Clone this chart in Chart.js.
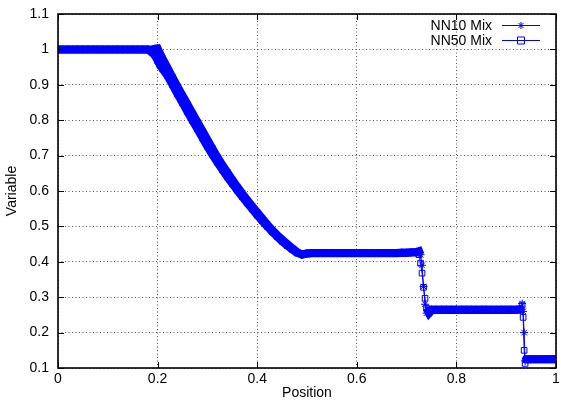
<!DOCTYPE html>
<html>
<head>
<meta charset="utf-8">
<script src="https://cdn.jsdelivr.net/npm/chart.js@4.4.1/dist/chart.umd.min.js"></script>
<style>
  html, body { margin: 0; padding: 0; background: #fff; }
  #wrap { width: 561px; height: 402px; }
</style>
</head>
<body>
<div id="wrap"><canvas id="chart" width="561" height="402"></canvas></div>
<script>
// positions shared by both runs
const positions = [
    0.00, 0.01, 0.02, 0.03, 0.04, 0.05, 0.06, 0.07, 0.08, 0.09,
    0.10, 0.11, 0.12, 0.13, 0.14, 0.15, 0.16, 0.17, 0.18, 0.19,
    0.195, 0.20, 0.205, 0.21, 0.22, 0.23, 0.24, 0.25, 0.26, 0.27,
    0.28, 0.29, 0.30, 0.31, 0.32, 0.33, 0.34, 0.35, 0.36, 0.37,
    0.38, 0.39, 0.40, 0.41, 0.42, 0.43, 0.44, 0.45, 0.46, 0.47,
    0.48, 0.49, 0.50, 0.51, 0.52, 0.53, 0.54, 0.55, 0.56, 0.57,
    0.58, 0.59, 0.60, 0.61, 0.62, 0.63, 0.64, 0.65, 0.66, 0.67,
    0.68, 0.69, 0.70, 0.71, 0.72, 0.725, 0.728, 0.731, 0.734, 0.737,
    0.74, 0.745, 0.75, 0.76, 0.77, 0.78, 0.79, 0.80, 0.81, 0.82,
    0.83, 0.84, 0.85, 0.86, 0.87, 0.88, 0.89, 0.90, 0.91, 0.92,
    0.93, 0.932, 0.934, 0.936, 0.938, 0.94, 0.95, 0.96, 0.97, 0.98,
    0.99, 1.00
];

const nn10 = [
    1, 1, 1, 1, 1, 1, 1, 1, 1, 1,
    1, 1, 1, 1, 1, 1, 1, 1, 1, 1,
    1.002, 1.003, 0.988, 0.974, 0.948, 0.921, 0.895, 0.870, 0.845, 0.820,
    0.795, 0.770, 0.745, 0.720, 0.696, 0.674, 0.653, 0.632, 0.612, 0.593,
    0.575, 0.557, 0.540, 0.523, 0.506, 0.490, 0.476, 0.463, 0.451, 0.439,
    0.428, 0.420, 0.424, 0.425, 0.425, 0.425, 0.425, 0.425, 0.425, 0.425,
    0.425, 0.425, 0.425, 0.425, 0.425, 0.425, 0.425, 0.425, 0.425, 0.425,
    0.425, 0.426, 0.426, 0.427, 0.428, 0.430, 0.420, 0.390, 0.330, 0.280,
    0.255, 0.262, 0.265, 0.265, 0.265, 0.265, 0.265, 0.265, 0.265, 0.265,
    0.265, 0.265, 0.265, 0.265, 0.265, 0.265, 0.265, 0.265, 0.265, 0.265,
    0.266, 0.282, 0.260, 0.200, 0.120, 0.125, 0.125, 0.125, 0.125, 0.125,
    0.125, 0.125
];

const nn50 = [
    1, 1, 1, 1, 1, 1, 1, 1, 1, 1,
    1, 1, 1, 1, 1, 1, 1, 1, 1, 0.990,
    0.982, 0.968, 0.955, 0.945, 0.925, 0.900, 0.874, 0.849, 0.824, 0.799,
    0.775, 0.750, 0.726, 0.703, 0.681, 0.660, 0.640, 0.621, 0.602, 0.584,
    0.566, 0.549, 0.532, 0.516, 0.500, 0.485, 0.471, 0.458, 0.446, 0.435,
    0.425, 0.421, 0.423, 0.424, 0.424, 0.424, 0.424, 0.424, 0.424, 0.424,
    0.424, 0.424, 0.424, 0.424, 0.424, 0.424, 0.424, 0.424, 0.424, 0.424,
    0.424, 0.425, 0.425, 0.426, 0.427, 0.420, 0.396, 0.368, 0.328, 0.297,
    0.269, 0.255, 0.263, 0.264, 0.264, 0.264, 0.264, 0.264, 0.264, 0.264,
    0.264, 0.264, 0.264, 0.264, 0.264, 0.264, 0.264, 0.264, 0.264, 0.264,
    0.265, 0.278, 0.243, 0.150, 0.113, 0.124, 0.125, 0.125, 0.125, 0.125,
    0.125, 0.125
];

const xTicks = [0, 0.2, 0.4, 0.6, 0.8, 1];
const yTicks = [0.1, 0.2, 0.3, 0.4, 0.5, 0.6, 0.7, 0.8, 0.9, 1, 1.1];

const blue = '#0000ff';
const font = "'Liberation Sans', Arial, Helvetica, sans-serif";

function pairs(ys) {
    return positions.map((x, i) => ({ x: x, y: ys[i] }));
}

// thick where the solution is smooth, thin across jumps
function segWidth(ctx) {
    let dx = ctx.p1.parsed.x - ctx.p0.parsed.x;
    let dy = ctx.p1.parsed.y - ctx.p0.parsed.y;
    return Math.abs(dy / dx) > 5 ? 1 : 8;
}

// gnuplot-like frame, inward ticks and key
const framePlugin = {
    id: 'frame',
    afterDatasetsDraw(chart) {
        let c = chart.ctx, a = chart.chartArea;
        let xs = chart.scales.x, ys = chart.scales.y;
        c.save();
        c.strokeStyle = '#000';
        c.lineWidth = 1;
        c.beginPath();
        xTicks.forEach(v => {
            let px = Math.round(xs.getPixelForValue(v)) + 0.5;
            c.moveTo(px, a.bottom); c.lineTo(px, a.bottom - 6);
            c.moveTo(px, a.top); c.lineTo(px, a.top + 6);
        });
        yTicks.forEach(v => {
            let py = Math.round(ys.getPixelForValue(v)) + 0.5;
            c.moveTo(a.left, py); c.lineTo(a.left + 6, py);
            c.moveTo(a.right, py); c.lineTo(a.right - 6, py);
        });
        c.stroke();
        c.lineWidth = 1.6;
        c.strokeRect(a.left, a.top, a.right - a.left, a.bottom - a.top);

        // key
        let rows = [25.5, 40.5];
        c.font = '14px ' + font;
        c.textAlign = 'right';
        c.textBaseline = 'middle';
        chart.data.datasets.forEach((ds, i) => {
            let y = rows[i];
            c.fillStyle = '#000';
            c.fillText(ds.label, 492, y + 1);
            c.strokeStyle = blue;
            c.lineWidth = 1;
            c.beginPath();
            c.moveTo(502, y); c.lineTo(540, y);
            c.stroke();
            let mx = 521;
            c.beginPath();
            if (ds.pointStyle === 'rect') {
                c.rect(mx - 3.5, y - 3.5, 7, 7);
            } else {
                c.moveTo(mx - 3.5, y); c.lineTo(mx + 3.5, y);
                c.moveTo(mx, y - 3.5); c.lineTo(mx, y + 3.5);
                c.moveTo(mx - 2.5, y - 2.5); c.lineTo(mx + 2.5, y + 2.5);
                c.moveTo(mx - 2.5, y + 2.5); c.lineTo(mx + 2.5, y - 2.5);
            }
            c.stroke();
        });
        c.restore();
    }
};

new Chart(document.getElementById('chart'), {
    type: 'scatter',
    plugins: [framePlugin],
    data: {
        datasets: [{
            label: 'NN10 Mix',
            data: pairs(nn10),
            showLine: true,
            borderColor: blue,
            backgroundColor: blue,
            borderWidth: 1,
            pointStyle: 'star',
            pointRadius: 4,
            pointBorderWidth: 1,
            segment: { borderWidth: segWidth }
        },
        {
            label: 'NN50 Mix',
            data: pairs(nn50),
            showLine: true,
            borderColor: blue,
            backgroundColor: 'transparent',
            borderWidth: 1,
            pointStyle: 'rect',
            pointRadius: 4,
            pointBorderWidth: 1,
            segment: { borderWidth: segWidth }
        }]
    },
    options: {
        responsive: false,
        animation: false,
        layout: { padding: { left: 0, right: 3, top: 14, bottom: 0 } },
        plugins: {
            legend: { display: false },
            tooltip: { enabled: false }
        },
        scales: {
            x: {
                type: 'linear',
                min: 0, max: 1,
                afterFit: s => {
                    s.height = 34;
                    s.paddingLeft = 0;
                    s.paddingRight = 0;
                },
                afterBuildTicks: s => { s.ticks = xTicks.map(v => ({ value: v })); },
                ticks: {
                    padding: 3,
                    color: '#000',
                    font: { family: font, size: 14 },
                    callback: v => String(Math.round(v * 10) / 10)
                },
                grid: {
                    color: '#555',
                    lineWidth: 1,
                    drawTicks: false
                },
                border: { display: false, dash: [1, 2.5] },
                title: {
                    display: true,
                    text: 'Position',
                    color: '#000',
                    font: { family: font, size: 14 },
                    padding: { top: 0, bottom: 0 }
                }
            },
            y: {
                type: 'linear',
                min: 0.1, max: 1.1,
                afterFit: s => {
                    s.width = 58;
                    s.paddingTop = 0;
                    s.paddingBottom = 0;
                },
                afterBuildTicks: s => { s.ticks = yTicks.map(v => ({ value: v })); },
                ticks: {
                    padding: 9,
                    color: '#000',
                    font: { family: font, size: 14 },
                    callback: v => String(Math.round(v * 10) / 10)
                },
                grid: {
                    color: '#555',
                    lineWidth: 1,
                    drawTicks: false
                },
                border: { display: false, dash: [1, 2.5] },
                title: {
                    display: true,
                    text: 'Variable',
                    color: '#000',
                    font: { family: font, size: 14 },
                    padding: { top: 4, bottom: 0 }
                }
            }
        }
    }
});
</script>
</body>
</html>
